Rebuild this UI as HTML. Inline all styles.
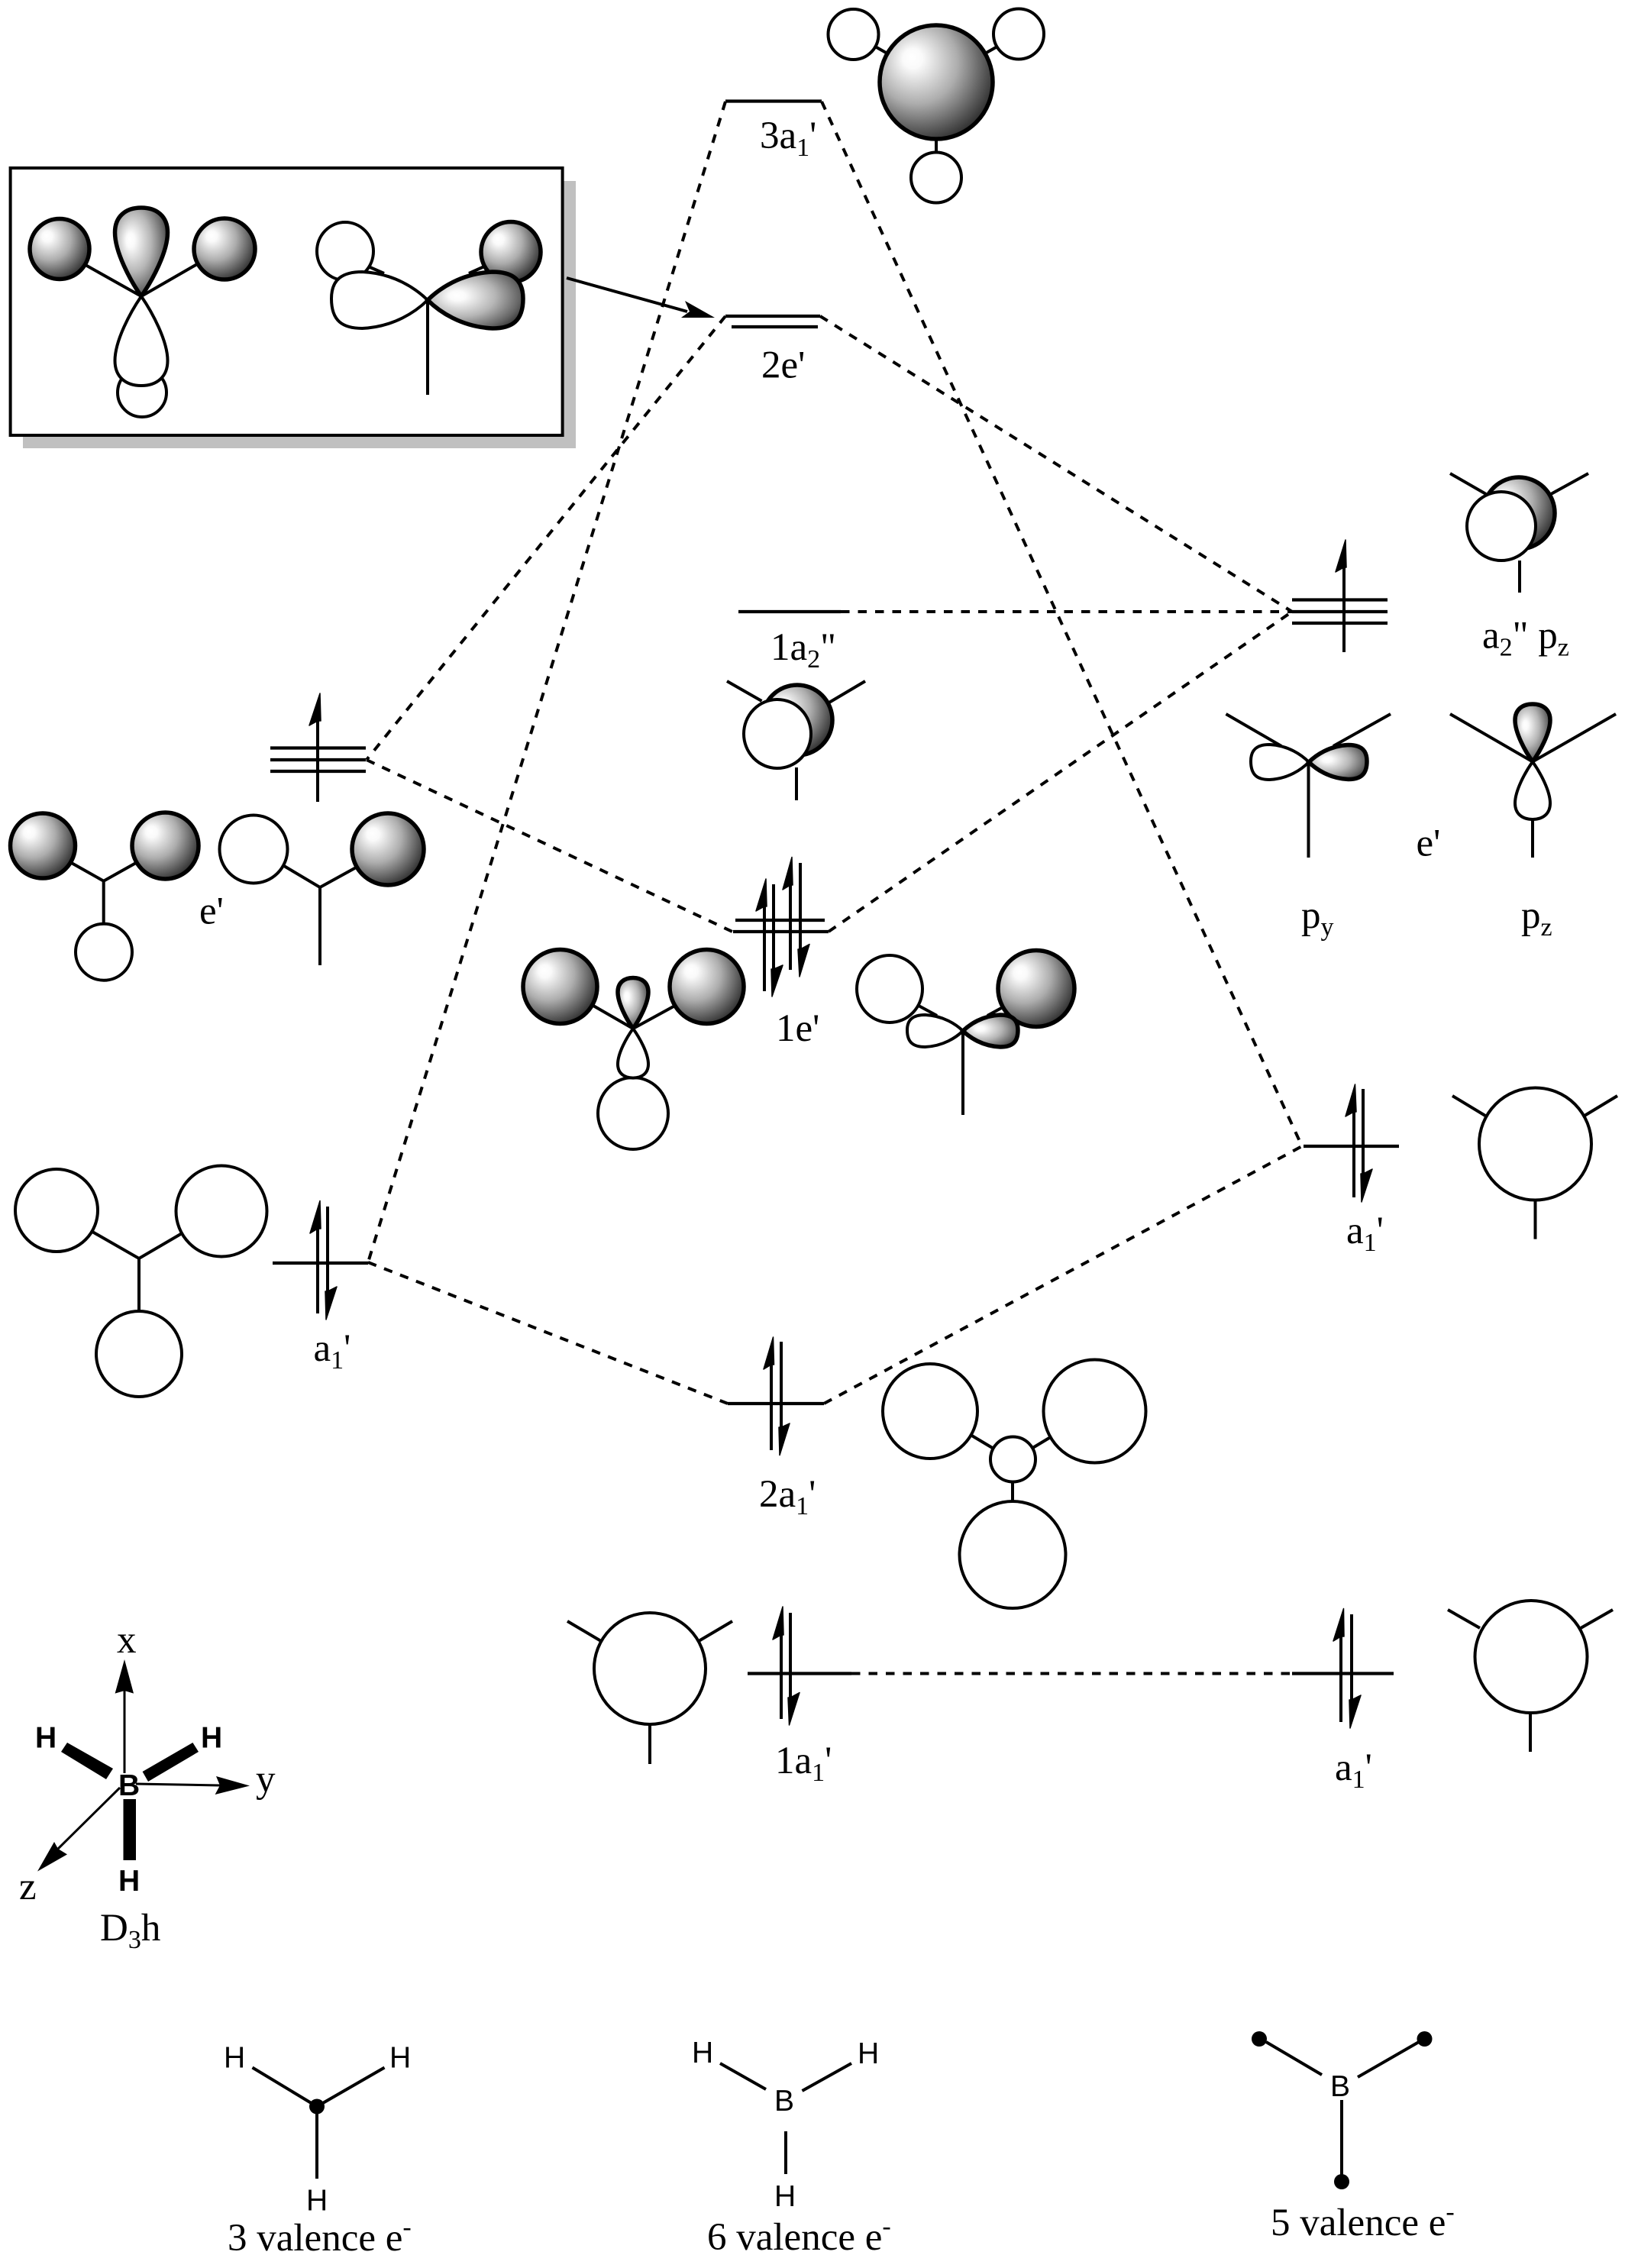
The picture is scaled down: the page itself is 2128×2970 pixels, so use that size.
<!DOCTYPE html>
<html><head><meta charset="utf-8"><style>
html,body{margin:0;padding:0;background:#fff}
svg{display:block}
.l{stroke:#000;stroke-width:4;fill:none}
.lv{stroke:#000;stroke-width:4.2;fill:none}
.d{stroke:#000;stroke-width:4;fill:none;stroke-dasharray:11.5 11}
.w{fill:#fff;stroke:#000;stroke-width:4}
.g{fill:url(#gr);stroke:#000;stroke-width:5.5}
.h{fill:url(#gh);stroke:#000;stroke-width:5.5}
.v{fill:url(#gv);stroke:#000;stroke-width:5.5}
.a{fill:#000;stroke:#000;stroke-width:1.5;stroke-linejoin:round}
text{font-family:"Liberation Serif",serif;font-size:51px;fill:#000}
.s{font-family:"Liberation Sans",sans-serif;font-size:39px}
.b{font-family:"Liberation Sans",sans-serif;font-size:39px;font-weight:bold}
.u{font-size:34px}
</style></head><body>
<svg width="2128" height="2970" viewBox="0 0 2128 2970" xmlns="http://www.w3.org/2000/svg">
<defs>
<radialGradient id="gr" cx=".38" cy=".38" r=".72" fx=".28" fy=".28">
<stop offset="0" stop-color="#fff"/><stop offset=".12" stop-color="#fafafa"/><stop offset=".5" stop-color="#adadad"/><stop offset=".8" stop-color="#555"/><stop offset="1" stop-color="#1c1c1c"/>
</radialGradient>
<radialGradient id="gh" cx=".4" cy=".45" r=".72" fx=".3" fy=".42">
<stop offset="0" stop-color="#fff"/><stop offset=".12" stop-color="#fafafa"/><stop offset=".5" stop-color="#b5b5b5"/><stop offset=".8" stop-color="#666"/><stop offset="1" stop-color="#222"/>
</radialGradient>
<radialGradient id="gv" cx=".42" cy=".42" r=".68" fx=".28" fy=".36">
<stop offset="0" stop-color="#fff"/><stop offset=".12" stop-color="#fafafa"/><stop offset=".5" stop-color="#b5b5b5"/><stop offset=".8" stop-color="#666"/><stop offset="1" stop-color="#222"/>
</radialGradient>
<path id="vl" vector-effect="non-scaling-stroke" d="M0 0C-.42 -.18 -1 -.5 -1 -.72C-1 -.9 -.6 -1 0 -1C.6 -1 1 -.9 1 -.72C1 -.5 .42 -.18 0 0Z"/>
<path id="hl" vector-effect="non-scaling-stroke" d="M0 0C.12 -.4 .35 -.95 .68 -1C.88 -1 1 -.75 1 -.05C1 .75 .88 1 .68 1C.35 .95 .12 .4 0 0Z"/>
</defs>
<rect width="2128" height="2970" fill="#fff"/>

<!-- correlation lines -->
<g class="d">
<path d="M950 133L482 1653"/>
<path d="M1076 133L1705 1501"/>
<path d="M950 414L480 995"/>
<path d="M1074 414L1692 801"/>
<path d="M1101 801L1692 801"/>
<path d="M480 995L959 1220"/>
<path d="M1085 1220L1692 801"/>
<path d="M482 1653L953 1838"/>
<path d="M1079 1838L1705 1501"/>
<path d="M1115 2191.5L1692 2191.5"/>
</g>

<!-- levels -->
<g class="lv">
<path d="M950 132.5H1076"/>
<path d="M950 414H1074M958 428H1071"/>
<path d="M967 801H1101"/>
<path d="M1692 785.5H1817M1692 801H1817M1692 816H1817"/>
<path d="M354 979.5H479M354 995H479M354 1010H479"/>
<path d="M963 1205H1080M960 1220H1085"/>
<path d="M357 1654H482"/>
<path d="M1707 1501H1832"/>
<path d="M953 1838H1079"/>
<path d="M979 2191.5H1115"/>
<path d="M1692 2191.5H1825"/>
</g>

<!-- electrons -->
<g class="l">
<path d="M1760 742V854"/>
<path d="M416 943V1050"/>
<path d="M1001 1185V1298M1013 1158V1270"/>
<path d="M1035 1158V1270M1048 1130V1245"/>
<path d="M416 1607V1720M429 1580V1692"/>
<path d="M1773 1455V1568M1785 1426V1538"/>
<path d="M1010 1786V1899M1023 1757V1870"/>
<path d="M1023 2140V2251M1035 2112V2224"/>
<path d="M1756 2142V2255M1770 2114V2228"/>
</g>
<g class="a">
<polygon points="1762,707 1749,749 1760,743 1763,743"/>
<polygon points="419,908 405,950 416,944 420,944"/>
<polygon points="1003,1151 990,1193 1001,1187 1004,1187"/>
<polygon points="1011,1305 1025,1264 1013,1269 1010,1269"/>
<polygon points="1037,1122.5 1025,1165 1035,1159 1038,1159"/>
<polygon points="1047,1279 1060,1236.5 1048,1243 1045,1243"/>
<polygon points="419,1572.5 406,1615 416,1609 420,1609"/>
<polygon points="427,1728 441,1685 429,1691 426,1691"/>
<polygon points="1774.5,1420 1762,1462 1773,1456 1776,1456"/>
<polygon points="1783,1574 1797,1531 1785,1537 1782,1537"/>
<polygon points="1012.5,1751 1000,1793 1010,1787 1013.5,1787"/>
<polygon points="1021,1905.6 1034,1864 1023,1869 1020,1869"/>
<polygon points="1025,2104 1012,2147 1023,2141 1026,2141"/>
<polygon points="1033.5,2259 1047,2216.5 1035,2223 1032,2223"/>
<polygon points="1759.5,2106.5 1746,2149 1756,2143 1760,2143"/>
<polygon points="1768,2263 1782,2220 1770,2226 1767,2226"/>
</g>

<!-- inset box -->
<rect x="30" y="237" width="724" height="350" fill="#c0c0c0"/>
<rect x="13.6" y="220" width="723" height="350" fill="#fff" stroke="#000" stroke-width="4"/>
<path class="l" d="M112 347L185 388L258 346"/>
<ellipse class="g" cx="78" cy="326" rx="39" ry="39.5"/>
<ellipse class="g" cx="294" cy="326" rx="40" ry="40"/>
<ellipse class="w" cx="186" cy="514" rx="32" ry="32"/>
<use href="#vl" class="v" transform="translate(185,388) scale(34.5,116)"/>
<use href="#vl" class="w" transform="translate(185,388) scale(34.5,-117)"/>
<path class="l" d="M480 348L503 358M614 358L634 349M560 393V517"/>
<ellipse class="w" cx="452" cy="329" rx="37" ry="38"/>
<ellipse class="g" cx="669" cy="330" rx="39" ry="39.5"/>
<use href="#hl" class="w" transform="translate(560,393) scale(-126,37)"/>
<use href="#hl" class="h" transform="translate(560,393) scale(125,37)"/>
<path class="l" d="M742 364L900 408"/>
<polygon points="936,416 897,394 903,408 892,416" fill="#000"/>

<!-- 3a1' -->
<path class="l" d="M1147 61.5L1162 70M1290 70L1305 61.5M1226 182V200"/>
<ellipse class="w" cx="1117.5" cy="45" rx="33" ry="33"/>
<ellipse class="w" cx="1334" cy="44.5" rx="33" ry="33"/>
<ellipse class="w" cx="1226" cy="232.5" rx="33" ry="33"/>
<ellipse class="g" cx="1226" cy="107.5" rx="74" ry="74.5"/>

<!-- a2'' right -->
<path class="l" d="M1899 620L1946 647M2080 620L2031 647M1990 734V776"/>
<ellipse class="g" cx="1989" cy="672" rx="47" ry="47"/>
<ellipse class="w" cx="1966" cy="689" rx="45" ry="45"/>

<!-- e' right p_y p_z -->
<path class="l" d="M1605.5 935L1678 977M1821 935L1746 977M1713.5 998V1123"/>
<use href="#hl" class="w" transform="translate(1714,998) scale(-76,23)"/>
<use href="#hl" class="h" transform="translate(1714,998) scale(76,22.5)"/>
<path class="l" d="M1899 935L2007 997.5L2116 935M2007 1073V1123"/>
<use href="#vl" class="v" transform="translate(2007,997.5) scale(23,75.5)"/>
<use href="#vl" class="w" transform="translate(2007,997.5) scale(23,-75.5)"/>

<!-- 1a2'' center -->
<path class="l" d="M952 892L997.5 918M1133 892L1084 921M1043 1005V1048"/>
<ellipse class="g" cx="1044" cy="943" rx="46" ry="46"/>
<ellipse class="w" cx="1018" cy="961" rx="44" ry="45"/>

<!-- 1e' left -->
<path class="l" d="M777 1317L829 1347L885.6 1316"/>
<ellipse class="g" cx="733.5" cy="1292" rx="48.5" ry="48.5"/>
<ellipse class="g" cx="925.5" cy="1292" rx="48.5" ry="48.5"/>
<ellipse class="w" cx="829" cy="1458" rx="46" ry="47"/>
<use href="#vl" class="v" transform="translate(829,1347) scale(20,66.5)"/>
<use href="#vl" class="w" transform="translate(829,1347) scale(20,-64.6)"/>

<!-- 1e' right -->
<path class="l" d="M1203 1317L1227 1330M1293 1330L1315 1318M1261 1350V1460"/>
<ellipse class="w" cx="1165" cy="1295" rx="43" ry="44"/>
<ellipse class="g" cx="1357" cy="1294.5" rx="50" ry="50"/>
<use href="#hl" class="w" transform="translate(1261,1350) scale(-73,21)"/>
<use href="#hl" class="h" transform="translate(1261,1350) scale(72,21)"/>

<!-- left e' -->
<path class="l" d="M93.6 1130L135.7 1153.7L178 1130M135.7 1153.7V1208"/>
<ellipse class="g" cx="56" cy="1107.5" rx="42.5" ry="42.5"/>
<ellipse class="g" cx="216.5" cy="1107.5" rx="43.5" ry="43.5"/>
<ellipse class="w" cx="136" cy="1246.7" rx="37" ry="37"/>
<path class="l" d="M372 1134L419 1162L468 1135M419 1162V1264"/>
<ellipse class="w" cx="332" cy="1112" rx="44.5" ry="44.5"/>
<ellipse class="g" cx="508" cy="1112" rx="47" ry="47"/>

<!-- left a1' -->
<path class="l" d="M121 1613L182 1648L237.5 1615.5M182 1648V1716"/>
<ellipse class="w" cx="74" cy="1585" rx="54" ry="54"/>
<ellipse class="w" cx="290" cy="1586" rx="59.5" ry="59.5"/>
<ellipse class="w" cx="182" cy="1773" rx="56" ry="56"/>

<!-- right a1' -->
<path class="l" d="M1902 1435L1945 1461M2118 1435L2075 1461M2010.5 1571V1622.6"/>
<ellipse class="w" cx="2010.5" cy="1498" rx="73.5" ry="73.5"/>

<!-- 2a1' -->
<path class="l" d="M1271 1879L1299.5 1896M1352.4 1896L1375 1882.4M1326 1940.6V1965.7"/>
<ellipse class="w" cx="1218" cy="1848" rx="62" ry="62"/>
<ellipse class="w" cx="1433.5" cy="1848" rx="67" ry="67.5"/>
<ellipse class="w" cx="1326.5" cy="1911" rx="29.5" ry="29.5"/>
<ellipse class="w" cx="1326" cy="2036" rx="69.5" ry="70"/>

<!-- 1a1' left -->
<path class="l" d="M743 2123L787 2149M959 2123L915 2149M851 2258V2310"/>
<ellipse class="w" cx="851" cy="2185" rx="73" ry="73"/>

<!-- 1a1' right -->
<path class="l" d="M1896 2108L1938 2132M2112 2108L2070 2132M2004 2243V2294"/>
<ellipse class="w" cx="2005" cy="2169.5" rx="73.5" ry="73.5"/>

<!-- axes -->
<path class="l" style="stroke-width:3" d="M163 2214V2322M178 2336L288 2338M157 2341L76 2421"/>
<polygon points="163,2173 150.6,2217.6 163,2214 175,2217.6" fill="#000"/>
<polygon points="327,2338.5 283,2326 288,2338 281.6,2350" fill="#000"/>
<polygon points="49,2450.6 71,2412 76,2421 88,2428.4" fill="#000"/>
<polygon points="80,2294 88,2282 148,2316 139,2330" fill="#000"/>
<polygon points="186.6,2320 194,2333 260,2294 252.4,2282" fill="#000"/>
<rect x="161.5" y="2356" width="16.5" height="80" fill="#000"/>
<text class="b" x="46" y="2288.6">H</text>
<text class="b" x="263" y="2288.6">H</text>
<text class="b" x="155" y="2476">H</text>
<text class="b" x="155" y="2351">B</text>
<text x="153" y="2164">x</text>
<text x="335" y="2346">y</text>
<text x="25" y="2487">z</text>
<text x="131" y="2541">D<tspan class="u" dy="10">3</tspan><tspan dy="-10">h</tspan></text>

<!-- Lewis -->
<path class="l" d="M330.5 2707.5L415 2758.5L503.5 2707.5M415 2758.5V2853"/>
<ellipse cx="415" cy="2758.5" rx="10" ry="10" fill="#000"/>
<text class="s" x="293" y="2707.5">H</text>
<text class="s" x="510" y="2707.5">H</text>
<text class="s" x="401" y="2894.5">H</text>
<path class="l" d="M943 2702L1003 2736M1115 2702L1050.5 2738M1029 2791V2847"/>
<text class="s" x="1014" y="2764">B</text>
<text class="s" x="906" y="2701">H</text>
<text class="s" x="1123" y="2702">H</text>
<text class="s" x="1014" y="2889">H</text>
<path class="l" d="M1658 2674L1731 2717M1858 2674L1778 2720M1757 2750V2849"/>
<text class="s" x="1742" y="2745">B</text>
<ellipse cx="1649" cy="2670" rx="10" ry="10" fill="#000"/>
<ellipse cx="1865.5" cy="2670" rx="10" ry="10" fill="#000"/>
<ellipse cx="1757" cy="2857" rx="10" ry="10" fill="#000"/>
<text x="298" y="2947">3 valence e<tspan class="u" dy="-20">-</tspan></text>
<text x="926" y="2946">6 valence e<tspan class="u" dy="-20">-</tspan></text>
<text x="1664" y="2927">5 valence e<tspan class="u" dy="-20">-</tspan></text>

<!-- labels -->
<text x="995" y="194">3a<tspan class="u" dy="10">1</tspan><tspan dy="-10">'</tspan></text>
<text x="997" y="494.5">2e'</text>
<text x="1009" y="864">1a<tspan class="u" dy="10">2</tspan><tspan dy="-10">"</tspan></text>
<text x="1016" y="1363">1e'</text>
<text x="994" y="1973">2a<tspan class="u" dy="10">1</tspan><tspan dy="-10">'</tspan></text>
<text x="1015" y="2322">1a<tspan class="u" dy="10">1</tspan><tspan dy="-10">'</tspan></text>
<text x="1941" y="848.5">a<tspan class="u" dy="10">2</tspan><tspan dy="-10">" p</tspan><tspan class="u" dy="10">z</tspan></text>
<text x="1854.5" y="1120.6">e'</text>
<text x="1704" y="1215">p<tspan class="u" dy="10">y</tspan></text>
<text x="1992" y="1215">p<tspan class="u" dy="10">z</tspan></text>
<text x="261" y="1209.5">e'</text>
<text x="410.5" y="1782">a<tspan class="u" dy="10">1</tspan><tspan dy="-10">'</tspan></text>
<text x="1763" y="1628">a<tspan class="u" dy="10">1</tspan><tspan dy="-10">'</tspan></text>
<text x="1748" y="2331">a<tspan class="u" dy="10">1</tspan><tspan dy="-10">'</tspan></text>
</svg>
</body></html>
